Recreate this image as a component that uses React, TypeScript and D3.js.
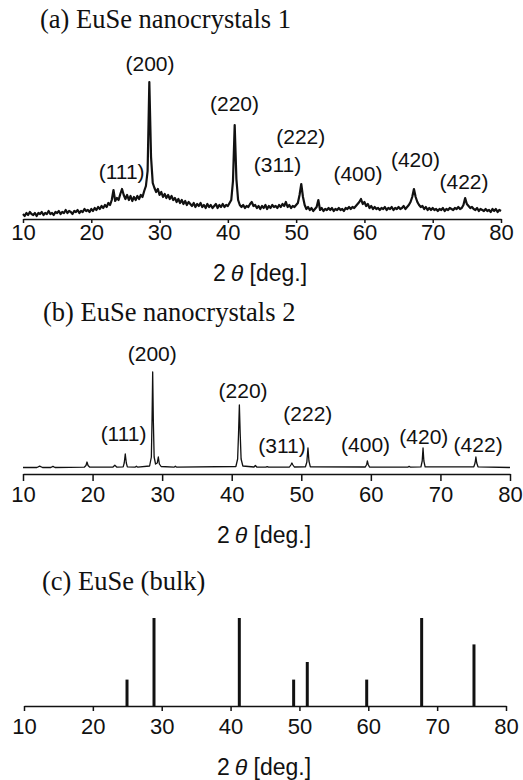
import React, { useEffect, useRef } from 'react';
import * as d3 from 'd3';

const WIDTH = 523;
const HEIGHT = 780;
const SANS = '"Liberation Sans", Arial, Helvetica, sans-serif';
const SERIF = '"Liberation Serif", "Times New Roman", serif';
const INK = '#111';

const TICKS = [10, 20, 30, 40, 50, 60, 70, 80];
const HKL = ['(111)', '(200)', '(220)', '(311)', '(222)', '(400)', '(420)', '(422)'];

// (a) nanocrystals 1: scan 10..80 deg, 0.25 deg step, intensity in a.u.
const A_START = 10;
const A_STEP = 0.25;
const aIntensity = [
    5, 3, 6, 4, 7, 5, 4, 6, 3, 6, 5, 7, 4, 6, 5, 8, 5, 6, 4, 7,
    6, 8, 5, 7, 6, 9, 6, 8, 7, 5, 8, 7, 9, 6, 8, 7, 10, 8, 9, 7,
    10, 8, 11, 9, 12, 10, 13, 11, 14, 12, 16, 14, 19, 29, 18, 21, 19, 25, 30, 24,
    20, 24, 19, 23, 18, 22, 19, 23, 20, 24, 22, 28, 33, 48, 137, 62, 36, 31, 27, 30,
    24, 27, 22, 25, 21, 24, 20, 23, 19, 21, 17, 20, 16, 19, 15, 18, 14, 17, 15, 13,
    16, 12, 15, 13, 16, 12, 14, 11, 15, 12, 14, 11, 13, 15, 11, 14, 12, 15, 12, 14,
    13, 16, 19, 38, 94, 40, 19, 14, 12, 14, 11, 13, 12, 15, 17, 13, 14, 11, 13, 10,
    13, 11, 14, 10, 13, 11, 14, 12, 13, 11, 14, 12, 15, 13, 17, 12, 14, 11, 13, 12,
    14, 16, 24, 35, 22, 14, 10, 12, 9, 11, 8, 10, 12, 19, 9, 11, 8, 10, 9, 11,
    9, 11, 8, 10, 9, 11, 9, 10, 8, 11, 10, 12, 10, 12, 11, 13, 15, 17, 20, 15,
    17, 13, 15, 11, 13, 10, 12, 10, 11, 9, 11, 10, 12, 9, 11, 10, 12, 9, 11, 10,
    12, 10, 11, 13, 10, 12, 14, 17, 22, 30, 22, 17, 14, 12, 13, 10, 12, 9, 11, 9,
    11, 9, 10, 8, 10, 9, 11, 8, 10, 9, 11, 10, 9, 11, 10, 12, 10, 11, 14, 21,
    15, 13, 11, 12, 10, 9, 11, 8, 10, 9, 8, 10, 8, 9, 7, 10, 8, 10, 7, 9,
    8,
];
const aLabelAngle = [24.45, 28.6, 40.97, 47.27, 50.68, 59.05, 67.47, 74.58];
const aLabelLevel = [40, 148, 108, 47, 75, 38, 52, 30];

// (b) nanocrystals 2
const bAngle = [
    10, 12.0, 12.4, 12.8, 14.0, 14.3, 14.6, 18.8, 19.05, 19.2, 19.35, 19.6,
    22.9, 23.2, 23.5, 24.4, 24.55, 24.7, 24.85, 25.0, 26.1, 26.3, 26.5,
    28.2, 28.45, 28.55, 28.64, 28.73, 28.85, 29.05, 29.3, 29.45, 29.6, 29.85,
    31.7, 31.9, 32.1, 40.6, 40.85, 40.98, 41.1, 41.22, 41.35, 41.6,
    43.2, 43.4, 43.6, 44.9, 45.1, 45.3, 48.3, 48.5, 48.65, 48.8, 49.0,
    50.6, 50.8, 50.96, 51.1, 51.3, 59.2, 59.4, 59.5, 59.62, 59.8,
    65.3, 65.5, 65.7, 67.2, 67.38, 67.5, 67.62, 67.8,
    74.8, 74.98, 75.1, 75.22, 75.4, 80,
];
const bIntensity = [
    6.5, 6.5, 7.8, 6.5, 6.5, 7.6, 6.5, 6.8, 8.5, 12, 8.5, 6.8,
    6.8, 8.8, 6.8, 7.2, 11, 20, 11, 7.2, 6.8, 7.8, 6.8,
    8, 17, 55, 102, 55, 17, 10, 11, 17, 10, 7.5,
    6.8, 7.8, 6.8, 7.5, 15, 40, 69, 40, 15, 8,
    7, 8.5, 7, 6.8, 7.4, 6.8, 7, 9, 11, 9, 7,
    7.2, 12, 26, 13, 7.2, 7, 9.5, 13, 9.5, 7,
    6.8, 7.6, 6.8, 7.2, 13, 26, 13, 7.2,
    7.2, 11, 17, 11, 7.2, 6.5,
];
const bLabelAngle = [24.46, 28.58, 41.63, 47.22, 50.94, 59.24, 67.62, 75.42];
const bLabelLevel = [33, 113, 76, 21, 53, 22, 30, 22];

// (c) bulk reference lines
const bulkAngle = [24.96, 28.88, 41.27, 49.16, 51.14, 59.77, 67.75, 75.35];
const bulkIntensity = [30, 100, 100, 30, 50, 30, 100, 70];

const Axis = ({ x, axisY, tickSize, tickPadding }) => {
    const ref = useRef<SVGGElement>(null);

    useEffect(() => {
        const g = d3.select(ref.current);
        g.call(d3.axisBottom(x)
            .tickValues(TICKS)
            .tickSize(tickSize)
            .tickSizeOuter(0)
            .tickPadding(tickPadding)
            .tickFormat(d3.format('d')));
        g.attr('font-family', SANS).attr('font-size', 22);
        g.select('.domain').attr('stroke', INK).attr('stroke-width', 1.5);
        g.selectAll('.tick line').attr('stroke', INK).attr('stroke-width', 1.5);
        g.selectAll('.tick text').attr('fill', INK);
    }, [x, tickSize, tickPadding]);

    return <g ref={ref} transform={`translate(0,${axisY})`} />;
};

const Title = ({ x, y, children }) => (
    <text x={x} y={y} fontFamily={SERIF} fontSize={26.5} fill={INK}>{children}</text>
);

const XLabel = ({ x, y }) => (
    <text x={x} y={y} fontFamily={SANS} fontSize={23} fill={INK} textAnchor="middle">
        2<tspan dx={5} fontStyle="italic">θ</tspan> [deg.]
    </text>
);

const PeakLabels = ({ x, y, angles, levels }) => (
    <g fontFamily={SANS} fontSize={21} fill={INK} textAnchor="middle">
        {HKL.map((h, i) => (
            <text key={h} x={x(angles[i])} y={y(levels[i])}>{h}</text>
        ))}
    </g>
);

const App = () => {
    // (a)
    const xa = d3.scaleLinear().domain([10, 80]).range([23, 501]);
    const ya = d3.scaleLinear().domain([0, 140]).range([219, 79]);
    const lineA = d3.line<number>()
        .x((_, i) => xa(A_START + i * A_STEP))
        .y(d => ya(d));

    // (b)
    const xb = d3.scaleLinear().domain([10, 80]).range([23, 510]);
    const yb = d3.scaleLinear().domain([0, 110]).range([474, 364]);
    const lineB = d3.line<number>()
        .x((_, i) => xb(bAngle[i]))
        .y(d => yb(d));

    // (c)
    const xc = d3.scaleLinear().domain([10, 80]).range([24, 506]);
    const yc = d3.scaleLinear().domain([0, 100]).range([706, 618]);

    return (
        <svg width={WIDTH} height={HEIGHT}
            style={{ position: 'absolute', left: 0, top: 0, background: '#fff' }}>

            <Title x={40} y={28}>(a) EuSe nanocrystals 1</Title>
            <path d={lineA(aIntensity)} fill="none" stroke={INK} strokeWidth={2.2} strokeLinejoin="round" />
            <PeakLabels x={xa} y={ya} angles={aLabelAngle} levels={aLabelLevel} />
            <Axis x={xa} axisY={219} tickSize={4} tickPadding={1} />
            <XLabel x={260} y={281} />

            <Title x={43} y={321}>(b) EuSe nanocrystals 2</Title>
            <path d={lineB(bIntensity)} fill="none" stroke={INK} strokeWidth={1.3} strokeLinejoin="round" />
            <PeakLabels x={xb} y={yb} angles={bLabelAngle} levels={bLabelLevel} />
            <Axis x={xb} axisY={474} tickSize={7} tickPadding={5} />
            <XLabel x={264} y={543} />

            <Title x={42} y={590}>(c) EuSe (bulk)</Title>
            {bulkAngle.map((a, i) => (
                <line key={a} x1={xc(a)} x2={xc(a)} y1={yc(0)} y2={yc(bulkIntensity[i])}
                    stroke={INK} strokeWidth={3} />
            ))}
            <Axis x={xc} axisY={706} tickSize={5} tickPadding={7} />
            <XLabel x={264} y={775} />
        </svg>
    );
};

export default App;
